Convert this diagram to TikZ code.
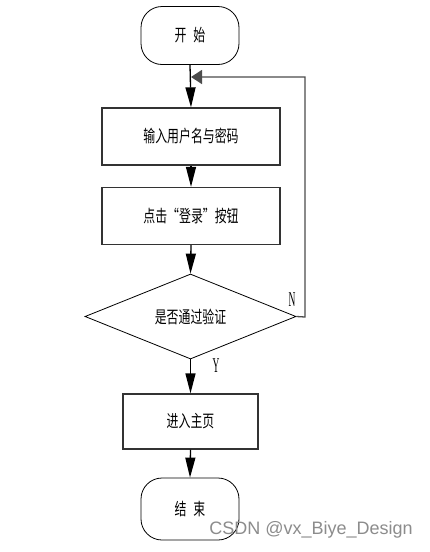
\documentclass[tikz,border=0pt]{standalone}
\usepackage{fontspec}
\setmainfont{Liberation Serif}
\newfontfamily\cjk{Noto Sans CJK SC}
\newfontfamily\wmfont{Liberation Sans}
\usetikzlibrary{arrows.meta,shapes.geometric}
\newcommand{\cj}[1]{\scalebox{0.7}[1]{\cjk\fontsize{17pt}{17pt}\selectfont #1}}
\tikzset{
  x=1pt,y=-1pt,
  terminal/.style={draw=black,line width=0.8pt,rounded corners=21pt,minimum width=98pt,minimum height=58pt,inner sep=0pt},
  procbox/.style={draw=black!80,line width=1.3pt,minimum height=57pt,inner sep=0pt},
  decision/.style={draw=black,line width=0.8pt,diamond,aspect=2.48,minimum width=211pt,minimum height=85pt,inner sep=0pt},
  flow/.style={draw=black,line width=1.3pt,-{Triangle[length=20pt,width=10pt]}},
  back/.style={draw=black!70,line width=1.3pt,-{Triangle[length=11pt,width=14pt]}},
  lbl/.style={inner sep=0pt}
}
\newcommand{\lb}[1]{\scalebox{0.45}[1]{\fontsize{21pt}{21pt}\selectfont #1}}
\begin{document}
\begin{tikzpicture}
\useasboundingbox (0,0) rectangle (429,552);
\fill[white] (0,0) rectangle (429,552);
\node[terminal] (start) at (190,35.5) {\cj{开\hspace{10pt}始}};
\node[procbox,minimum width=178pt] (inp) at (191,136.5) {\cj{输入用户名与密码}};
\node[procbox,minimum width=178pt] (click) at (191,216) {\cj{点击“登录”按钮}};
\node[decision] (dec) at (190.5,316.5) {\cj{是否通过验证}};
\node[procbox,minimum width=135pt,minimum height=55pt] (home) at (190.5,421.5) {\cj{进入主页}};
\node[terminal,minimum height=62pt] (stop) at (190,509) {\cj{结\hspace{10pt}束}};
\coordinate (merge) at (191,77);
\coordinate (corner1) at (305,317);
\coordinate (corner2) at (305,77);
\draw[flow] (start.south) -- (inp.north);
\draw[flow] (inp.south) -- (click.north);
\draw[flow] (click.south) -- (dec.north);
\draw[flow] (dec.south) -- (home.north);
\draw[flow] (home.south) -- (stop.north);
\draw[back] (dec.east) -- (corner1) -- (corner2) -- (merge);
\node[lbl] (nlab) at (292,300) {\lb{N}};
\node[lbl] (ylab) at (216,366) {\lb{Y}};
\node[font=\wmfont\fontsize{18pt}{18pt}\selectfont,text=black!45,inner sep=0pt] (wm) at (311,530) {CSDN @vx\_Biye\_Design};
\end{tikzpicture}
\end{document}
